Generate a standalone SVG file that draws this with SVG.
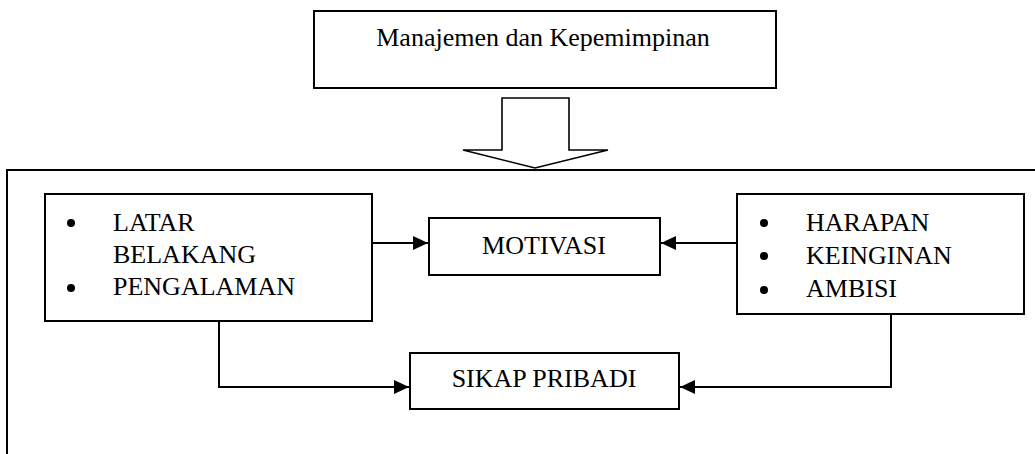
<svg xmlns="http://www.w3.org/2000/svg" width="1035" height="454" viewBox="0 0 1035 454">
<style>
.box{fill:#fff;stroke:#000;stroke-width:2}
.t{font-family:'Liberation Serif','DejaVu Serif',serif;font-size:26px;fill:#000}
.c{text-anchor:middle}
.ln{fill:none;stroke:#000;stroke-width:2}
</style>
<defs>
<marker id="ah" markerUnits="userSpaceOnUse" markerWidth="16" markerHeight="16" viewBox="0 0 16 16" refX="15" refY="8" orient="auto">
<path d="M0,1 L15,8 L0,15 Z" fill="#000"/>
</marker>
</defs>
<rect width="1035" height="454" fill="#fff"/>
<g id="frame">
<rect x="7" y="170" width="1040" height="300" class="box" fill="none"/>
</g>
<g id="top">
<rect x="314" y="11" width="462" height="77" class="box"/>
<text x="543" y="46" class="t c" font-family="Liberation Serif">Manajemen dan Kepemimpinan</text>
</g>
<g id="bigarrow">
<polygon points="502,98 569,98 569,150 608,150 535,168 463,150 502,150" fill="#fff" stroke="#000" stroke-width="1.6"/>
</g>
<g id="latar">
<rect x="45" y="194" width="327" height="127" class="box"/>
<circle cx="71" cy="223" r="4"/>
<circle cx="71" cy="288" r="4"/>
<text x="113" y="231" class="t" font-family="Liberation Serif">LATAR</text>
<text x="113" y="263" class="t" font-family="Liberation Serif">BELAKANG</text>
<text x="113" y="295" class="t" font-family="Liberation Serif">PENGALAMAN</text>
</g>
<g id="motivasi">
<rect x="429" y="218" width="231" height="57" class="box"/>
<text x="544" y="254" class="t c" font-family="Liberation Serif">MOTIVASI</text>
</g>
<g id="harapan">
<rect x="737" y="194" width="287" height="120" class="box"/>
<circle cx="764" cy="223" r="4"/>
<circle cx="764" cy="256" r="4"/>
<circle cx="764" cy="290" r="4"/>
<text x="806" y="231" class="t" font-family="Liberation Serif">HARAPAN</text>
<text x="806" y="264" class="t" font-family="Liberation Serif">KEINGINAN</text>
<text x="806" y="297" class="t" font-family="Liberation Serif">AMBISI</text>
</g>
<g id="sikap">
<rect x="410" y="353" width="269" height="56" class="box"/>
<text x="544" y="387" class="t c" font-family="Liberation Serif">SIKAP PRIBADI</text>
</g>
<g id="connectors">
<path d="M372,243 H428" class="ln" marker-end="url(#ah)"/>
<path d="M737,243 H661" class="ln" marker-end="url(#ah)"/>
<path d="M219,321 V387 H409" class="ln" marker-end="url(#ah)"/>
<path d="M891,314 V387 H680" class="ln" marker-end="url(#ah)"/>
</g>
</svg>
